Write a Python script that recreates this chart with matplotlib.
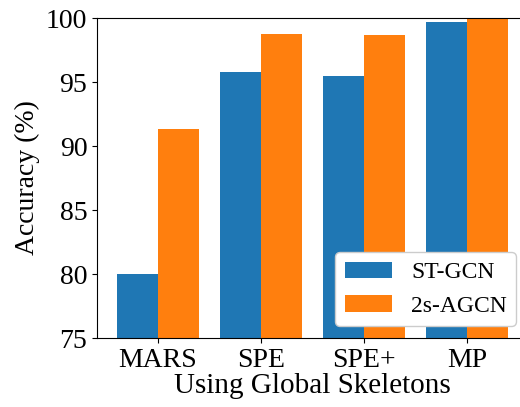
import matplotlib
matplotlib.use("Agg")
import matplotlib.pyplot as plt
import numpy as np

# data
methods = ["MARS", "SPE", "SPE+", "MP"]
st_gcn = [80.0, 95.8, 95.5, 99.7]
agcn = [91.3, 98.75, 98.7, 100.0]

plt.rcParams["font.family"] = ["Liberation Serif", "DejaVu Serif"]

fig = plt.figure(figsize=(5.2, 4.07), dpi=100)
ax = fig.add_axes([97 / 520, 69 / 407, 431 / 520, 320 / 407])

x = np.arange(len(methods))
w = 0.4
ax.bar(x - w / 2, st_gcn, w, color="#1f77b4", label="ST-GCN")
ax.bar(x + w / 2, agcn, w, color="#ff7f0e", label="2s-AGCN")

ax.set_xlim(-0.59, 3.59)
ax.set_ylim(75, 100)
ax.spines["right"].set_visible(False)
ax.set_xticks(x)
ax.set_xticklabels(methods)
ax.tick_params(labelsize=20)
ax.set_ylabel("Accuracy (%)", fontsize=20)
ax.set_xlabel("Using Global Skeletons", fontsize=21, labelpad=0)

ax.legend(loc="lower right", fontsize=17, framealpha=1)

fig.savefig("out.png", dpi=100)
